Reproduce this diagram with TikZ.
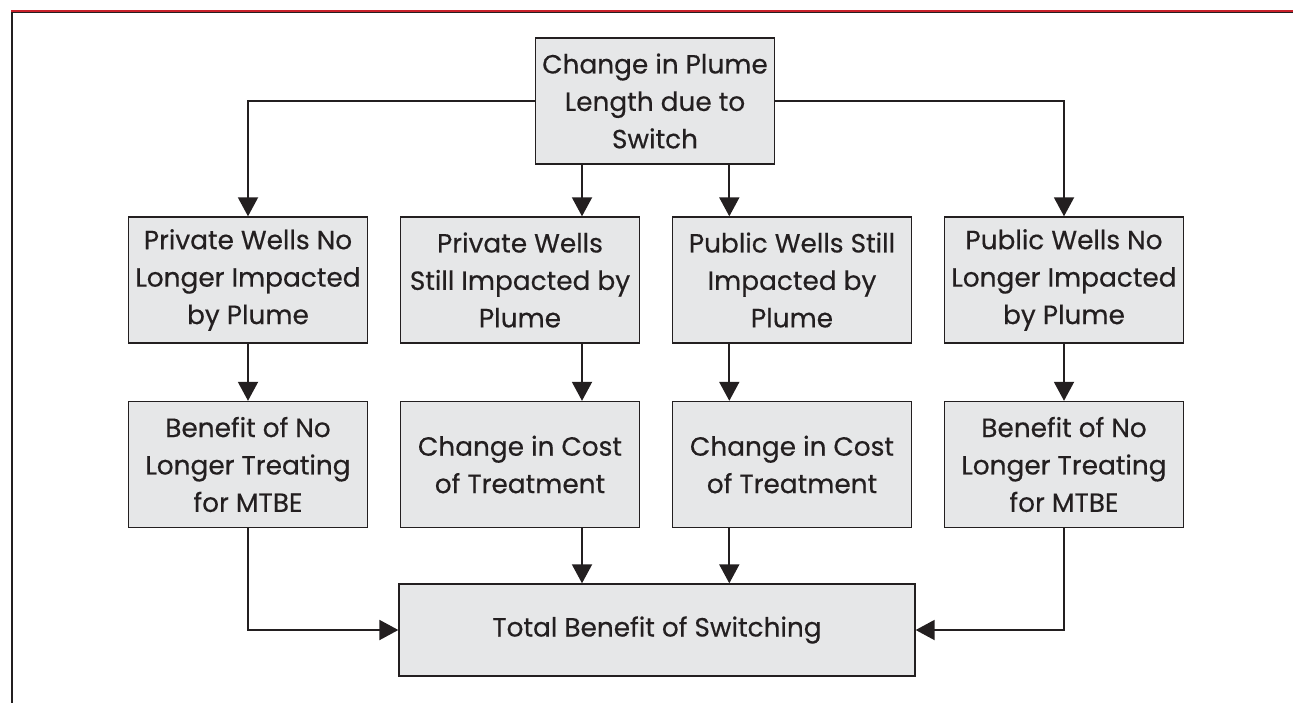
\documentclass[tikz,border=0pt]{standalone}
\usepackage{fontspec}
\setmainfont{Poppins}[FakeBold=0.4]
\usetikzlibrary{arrows.meta}
\definecolor{boxgray}{HTML}{E6E7E8}
\definecolor{ink}{HTML}{231F20}
\definecolor{rulered}{HTML}{C8202A}
\tikzset{
  stage/.style={draw=ink, line width=0.8pt, fill=boxgray, text=ink, minimum width=4.78cm, minimum height=2.52cm, align=center, inner sep=0pt, font=\fontsize{15}{21.3}\selectfont},
  arr/.style={draw=ink, line width=1.1pt, -{Triangle[length=0.38cm,width=0.4cm]}}
}
\begin{document}
\begin{tikzpicture}[x=0.02cm,y=-0.02cm]
	\useasboundingbox (0,0) rectangle (1293,703);
	% frame
	\draw[rulered, line width=0.6pt] (11,11) -- (1293,11);
	\draw[ink, line width=1pt] (12,12.4) -- (1293,12.4);
	\draw[ink, line width=1pt] (12,12) -- (12,703);
	% boxes
	\node[stage] (chg) at (655,101) {Change in Plume\\Length due to\\Switch};
	\node[stage] (pr1) at (248,280) {Private Wells No\\Longer Impacted\\by Plume};
	\node[stage] (pr2) at (520,280) {Private Wells\\Still Impacted by\\Plume};
	\node[stage] (pu2) at (792,280) {Public Wells Still\\Impacted by\\Plume};
	\node[stage] (pu1) at (1064,280) {Public Wells No\\Longer Impacted\\by Plume};
	\node[stage] (bpr) at (248,464.5) {Benefit of No\\Longer Treating\\for MTBE};
	\node[stage] (cpr) at (520,464.5) {Change in Cost\\of Treatment};
	\node[stage] (cpu) at (792,464.5) {Change in Cost\\of Treatment};
	\node[stage] (bpu) at (1064,464.5) {Benefit of No\\Longer Treating\\for MTBE};
	\node[stage, minimum width=10.32cm, minimum height=1.84cm] (tot) at (657,630) {Total Benefit of Switching};
	% connectors
	\coordinate (lft) at (582,0);
	\coordinate (rgt) at (729.3,0);
	\draw[arr] (chg.west) -| (pr1.north);
	\draw[arr] (chg.east) -| (pu1.north);
	\draw[arr] (lft |- chg.south) -- (lft |- pr2.north);
	\draw[arr] (rgt |- chg.south) -- (rgt |- pu2.north);
	\draw[arr] (pr1.south) -- (bpr.north);
	\draw[arr] (lft |- pr2.south) -- (lft |- cpr.north);
	\draw[arr] (rgt |- pu2.south) -- (rgt |- cpu.north);
	\draw[arr] (pu1.south) -- (bpu.north);
	\draw[arr] (lft |- cpr.south) -- (lft |- tot.north);
	\draw[arr] (rgt |- cpu.south) -- (rgt |- tot.north);
	\draw[arr] (bpr.south) |- (tot.west);
	\draw[arr] (bpu.south) |- (tot.east);
\end{tikzpicture}
\end{document}
